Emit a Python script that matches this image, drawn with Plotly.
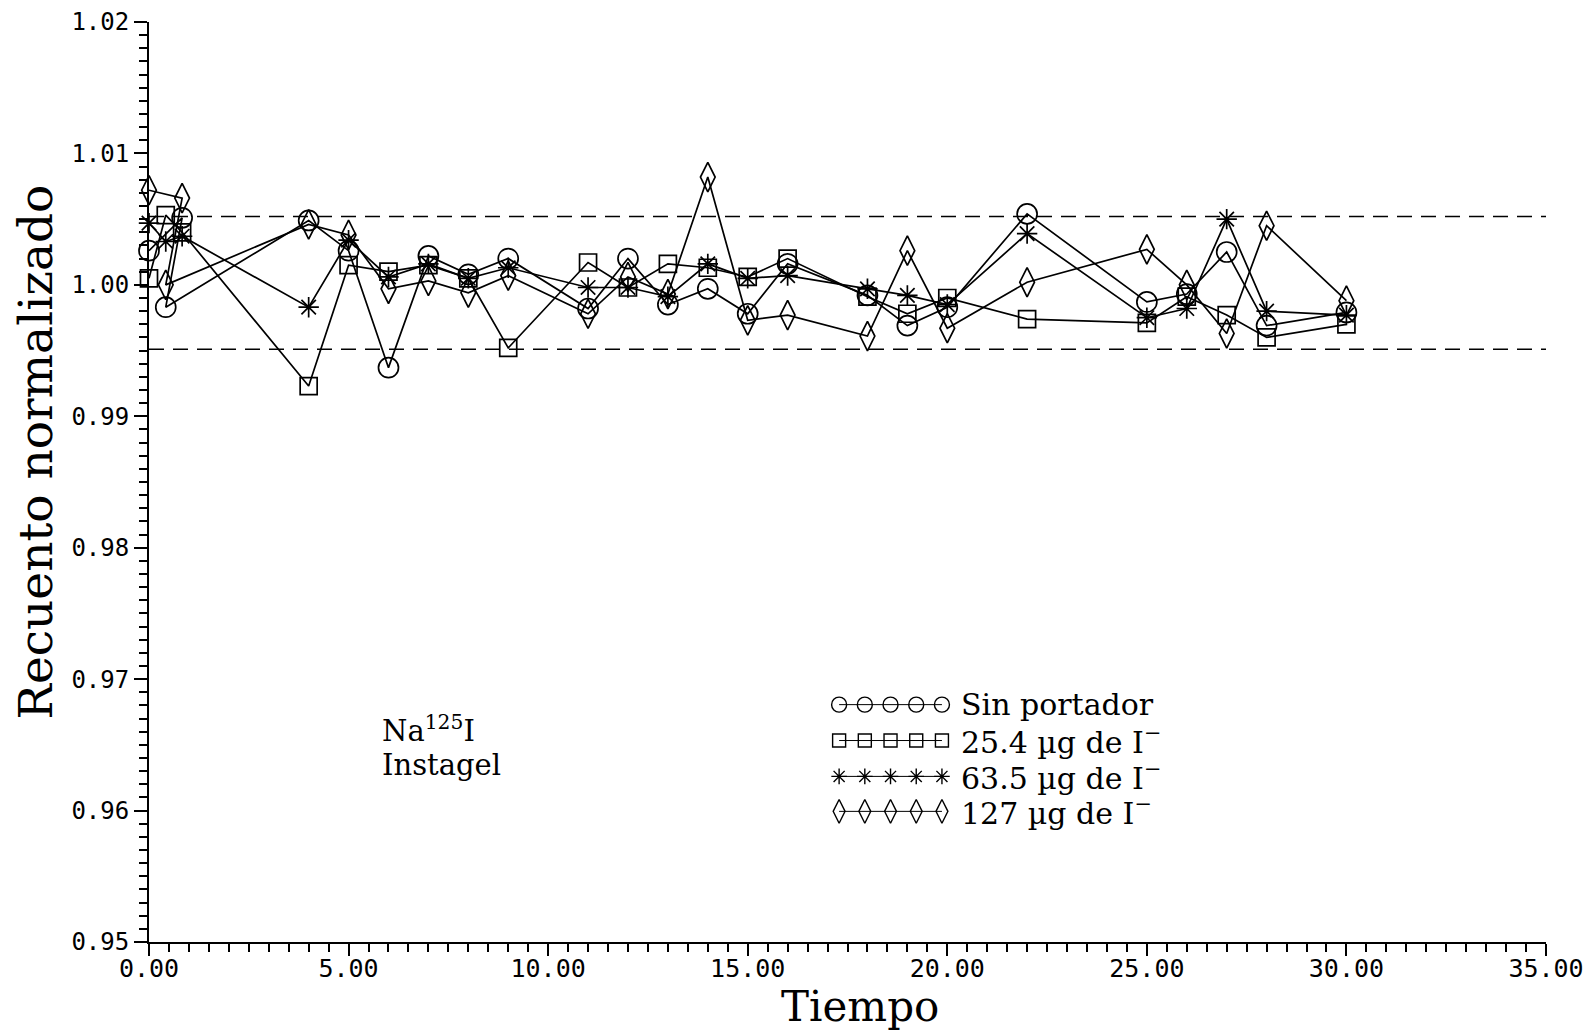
import plotly.graph_objects as go

# ---------------- data ----------------
x_circle = [0, 0.83, 0.42, 4, 5, 6, 7, 8, 9, 11, 12, 13, 14, 15, 16, 18, 19, 20, 22, 25, 26, 27, 28, 30]
y_circle = [1.0026, 1.0051, 0.9983, 1.0049, 1.0026, 0.9937, 1.0022, 1.0008, 1.0020, 0.9982, 1.0020, 0.9985,
            0.9997, 0.9978, 1.0016, 0.9992, 0.9969, 0.9983, 1.0054, 0.9987, 0.9993, 1.0025, 0.9969, 0.9979]

x_square = [0, 0.42, 0.83, 4, 5, 6, 7, 8, 9, 11, 12, 13, 14, 15, 16, 18, 19, 20, 22, 25, 26, 27, 28, 30]
y_square = [1.0005, 1.0053, 1.0040, 0.9923, 1.0015, 1.0010, 1.0015, 1.0005, 0.9952, 1.0017, 0.9998, 1.0016,
            1.0013, 1.0006, 1.0020, 0.9991, 0.9978, 0.9990, 0.9974, 0.9971, 0.9991, 0.9977, 0.9960, 0.9970]

x_star = [0, 0.42, 0.83, 4, 5, 6, 7, 8, 9, 11, 12, 13, 14, 15, 16, 18, 19, 20, 22, 25, 26, 27, 28, 30]
y_star = [1.0047, 1.0033, 1.0037, 0.9983, 1.0034, 1.0006, 1.0016, 1.0005, 1.0013, 0.9998, 0.9998, 0.9991,
          1.0016, 1.0005, 1.0007, 0.9997, 0.9992, 0.9985, 1.0039, 0.9975, 0.9982, 1.0050, 0.9980, 0.9977]

x_diamond = [0, 0.83, 0.42, 4, 5, 6, 7, 8, 9, 11, 12, 13, 14, 15, 16, 18, 19, 20, 22, 25, 26, 27, 28, 30]
y_diamond = [1.0072, 1.0066, 1.0000, 1.0046, 1.0038, 0.9997, 1.0003, 0.9994, 1.0007, 0.9978, 1.0006, 0.9993,
             1.0082, 0.9973, 0.9977, 0.9961, 1.0026, 0.9967, 1.0002, 1.0027, 1.0000, 0.9963, 1.0045, 0.9988]

limit_upper = 1.0052
limit_lower = 0.9951

series_names = ["Sin portador", "25.4 µg de I<sup>−</sup>", "63.5 µg de I<sup>−</sup>", "127 µg de I<sup>−</sup>"]

x_ticks = [0, 5, 10, 15, 20, 25, 30, 35]
y_ticks = [0.95, 0.96, 0.97, 0.98, 0.99, 1.00, 1.01, 1.02]

# ---------------- styling ----------------
symbols = ["circle-open", "square-open", "asterisk-open", "diamond-tall-open"]
sizes = [20, 17, 17, 21]
serif = "DejaVu Serif"
mono = "DejaVu Sans Mono"

fig = go.Figure()

all_x = [x_circle, x_square, x_star, x_diamond]
all_y = [y_circle, y_square, y_star, y_diamond]
for xs, ys, sym, sz, nm in zip(all_x, all_y, symbols, sizes, series_names):
    fig.add_trace(go.Scatter(
        x=xs, y=ys, mode="lines+markers", name=nm, showlegend=False,
        line=dict(color="black", width=1.7),
        marker=dict(symbol=sym, size=sz, color="black", line=dict(color="black", width=1.7)),
        cliponaxis=False,
    ))

# Control limits (dashed)
for yv in (limit_upper, limit_lower):
    fig.add_shape(type="line", xref="x", yref="y", x0=0, x1=35, y0=yv, y1=yv,
                  line=dict(color="black", width=1.6, dash="15px,9px"))

# Custom legend drawn on a hidden overlay axis (fractions of plot area)
leg_x0, leg_dx, leg_n = 0.494, 0.0184, 5
leg_rows = [0.258, 0.219, 0.180, 0.142]
leg_sizes = [15, 13, 13, 17]
for i, (sym, yy) in enumerate(zip(symbols, leg_rows)):
    xs = [leg_x0 + k * leg_dx for k in range(leg_n)]
    fig.add_trace(go.Scatter(
        x=xs, y=[yy] * leg_n, xaxis="x2", yaxis="y2", mode="lines+markers", showlegend=False,
        line=dict(color="black", width=1),
        marker=dict(symbol=sym, size=leg_sizes[i], color="black", line=dict(color="black", width=1.4)),
        cliponaxis=False, hoverinfo="skip",
    ))
    fig.add_annotation(xref="paper", yref="paper", x=0.580, y=yy, text=series_names[i],
                       showarrow=False, xanchor="left", yanchor="middle",
                       font=dict(family=serif, size=30, color="black"))

fig.add_annotation(xref="paper", yref="paper", x=0.165, y=0.232, text="Na<sup>125</sup>I",
                   showarrow=False, xanchor="left", yanchor="middle",
                   font=dict(family=serif, size=29, color="black"))
fig.add_annotation(xref="paper", yref="paper", x=0.165, y=0.192, text="Instagel",
                   showarrow=False, xanchor="left", yanchor="middle",
                   font=dict(family=serif, size=29, color="black"))

# Axis titles placed as annotations
fig.add_annotation(xref="paper", yref="paper", x=0.509, y=-0.070, text="Tiempo",
                   showarrow=False, xanchor="center", yanchor="middle",
                   font=dict(family=serif, size=42, color="black"))
fig.add_annotation(xref="paper", yref="paper", x=-0.081, y=0.533, text="Recuento normalizado",
                   showarrow=False, xanchor="center", yanchor="middle", textangle=-90,
                   font=dict(family=serif, size=47, color="black"))

# page body has an 8px margin, so the figure is sized/placed to compensate
fig.update_layout(
    width=1588, height=1022,
    margin=dict(l=141, r=50, t=14, b=88, autoexpand=False),
    paper_bgcolor="white", plot_bgcolor="white",
    xaxis=dict(
        range=[0, 35], tickvals=x_ticks, tickformat=".2f",
        showgrid=False, zeroline=False, showline=True, linecolor="black", linewidth=2,
        ticks="outside", ticklen=12, tickwidth=2, tickcolor="black", ticklabelstandoff=-9,
        ticklabeloverflow="allow",
        minor=dict(dtick=0.5, ticks="outside", ticklen=8, tickwidth=1.5, tickcolor="black", showgrid=False),
        tickfont=dict(family=mono, size=25, color="black"),
        automargin=False,
    ),
    yaxis=dict(
        range=[0.95, 1.02], tickvals=y_ticks, tickformat=".2f",
        showgrid=False, zeroline=False, showline=True, linecolor="black", linewidth=2,
        ticks="outside", ticklen=13, tickwidth=2, tickcolor="black",
        ticklabeloverflow="allow",
        minor=dict(dtick=0.001, ticks="outside", ticklen=8, tickwidth=1.5, tickcolor="black", showgrid=False),
        tickfont=dict(family=mono, size=24, color="black"),
        automargin=False,
    ),
    xaxis2=dict(range=[0, 1], overlaying="x", anchor="y2", visible=False, fixedrange=True),
    yaxis2=dict(range=[0, 1], overlaying="y", anchor="x2", visible=False, fixedrange=True),
    showlegend=False,
)

fig.write_html("out.html")
